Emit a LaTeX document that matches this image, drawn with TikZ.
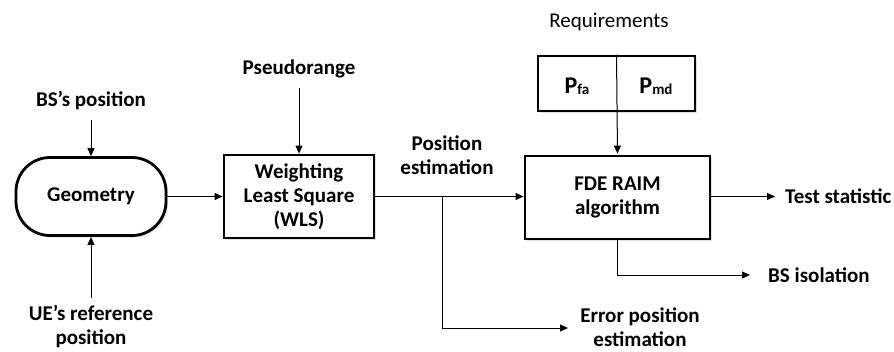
\documentclass[tikz,border=0pt]{standalone}
\usepackage{fontspec}
\setmainfont{Carlito}
\usetikzlibrary{arrows.meta,shadows}

\tikzset{
  blk/.style={draw, line width=2.8pt, fill=white, align=center,
    drop shadow={opacity=0.25, shadow xshift=2pt, shadow yshift=-2pt},
    font=\fontsize{21}{24}\selectfont\bfseries},
  lbl/.style={inner sep=0pt, align=center, font=\fontsize{21}{24}\selectfont\bfseries},
  arr/.style={line width=1pt, -{Triangle[length=8pt,width=7pt]}},
}
\newcommand{\probsub}[2]{#1{\fontsize{15}{15}\selectfont\raisebox{-1pt}{#2}}}

\begin{document}
\begin{tikzpicture}[x=1pt,y=-1pt]
    \useasboundingbox (0,0) rectangle (894,351);

    % blocks
    \node[blk, rounded corners=34pt, minimum width=150pt, minimum height=78pt] (geo) at (91,196.5) {Geometry};
    \node[blk, minimum width=150pt, minimum height=83pt] (wls) at (299,196.5) {Weighting\\Least Square\\(WLS)};
    \node[blk, minimum width=185pt, minimum height=83pt] (fde) at (617.5,197.5) {FDE RAIM\\algorithm};
    \node[blk, minimum width=157pt, minimum height=55pt] (req) at (616.5,83.5) {};

    \node[lbl, font=\fontsize{24}{24}\selectfont\bfseries] (pfa) at (577,86) {\probsub{P}{fa}};
    \node[lbl, font=\fontsize{24}{24}\selectfont\bfseries] (pmd) at (656,86) {\probsub{P}{md}};
    \node[inner sep=0pt, font=\fontsize{21}{24}\selectfont] (reqtxt) at (609,22) {Requirements};

    % labels
    \node[lbl] (bspos) at (91,101) {BS’s position};
    \node[lbl] (pseudo) at (299,69) {Pseudorange};
    \node[lbl] (ueref) at (91,327) {UE’s reference\\position};
    \node[lbl] (posest) at (447,155) {Position\\estimation};
    \node[lbl] (errest) at (640,327) {Error position\\estimation};
    \node[lbl, anchor=west] (test) at (785,196.5) {Test statistic};
    \node[lbl, anchor=west] (bsiso) at (768,275) {BS isolation};

    \coordinate (jn) at (442,196.5);
    \coordinate (errend) at (568,328);

    % draw arrow
    \draw[arr, shorten <=10pt] (bspos) -- (geo);
    \draw[arr, shorten <=8pt] (ueref) -- (geo);
    \draw[arr] (geo) -- (wls);
    \draw[arr, shorten <=10pt] (pseudo) -- (wls);
    \draw[arr] (wls.east) -- (wls.east -| fde.west);
    \draw[arr] (jn) |- (errend);
    \draw[arr, shorten >=1pt] (req.north) -- (fde.north);
    \draw[arr, shorten >=10pt] (fde.east |- test.west) -- (test.west);
    \draw[arr, shorten >=18pt] (fde.south) |- (bsiso.west);
\end{tikzpicture}
\end{document}
